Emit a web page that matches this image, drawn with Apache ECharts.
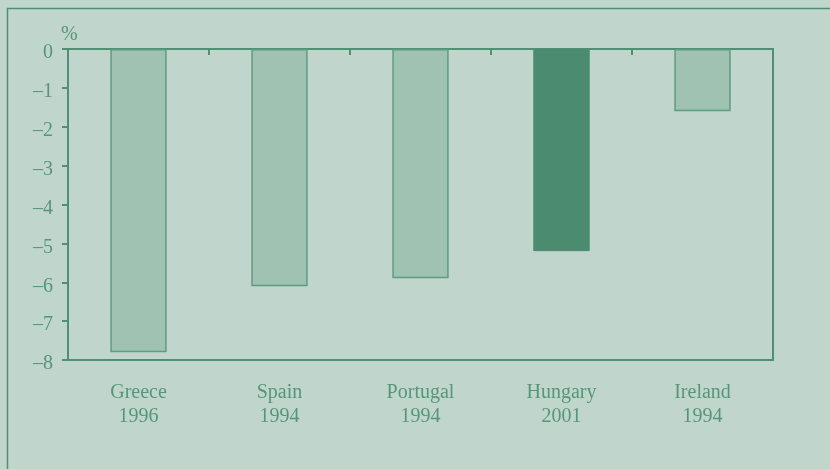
<!DOCTYPE html>
<html>
<head>
<meta charset="UTF-8">
<title>chart</title>
<script src="https://cdn.jsdelivr.net/npm/echarts@6/dist/echarts.min.js"></script>
<style>
  html, body { margin: 0; padding: 0; background: #c0d6cc; }
  #main { width: 830px; height: 469px; }
</style>
</head>
<body>
<div id="main"></div>
<script>
    var categories = ['Greece\n1996', 'Spain\n1994', 'Portugal\n1994', 'Hungary\n2001', 'Ireland\n1994'];
    var values = [-7.8, -6.1, -5.9, -5.2, -1.6];
    var highlight = [false, false, false, true, false];

    var lineColor = '#4f9075';
    var textColor = '#55967a';

    var chart = echarts.init(document.getElementById('main'));
    var option = {
        backgroundColor: '#c0d6cc',
        animation: false,
        textStyle: { fontFamily: 'Liberation Serif' },
        graphic: [{
            type: 'rect',
            shape: { x: 7.5, y: 8.5, width: 900, height: 600 },
            style: { fill: 'none', stroke: lineColor, lineWidth: 1.5 },
            silent: true
        }, {
            type: 'text',
            left: 61, top: 25,
            style: { text: '%', fill: textColor, font: '20px "Liberation Serif"' }
        }],
        grid: {
            left: 68, top: 49, right: 57, bottom: 109,
            show: true, borderColor: lineColor, borderWidth: 2
        },
        xAxis: [{
            type: 'category',
            data: categories,
            position: 'top',
            axisLine: { onZero: false, lineStyle: { color: lineColor, width: 2 } },
            axisTick: { show: true, inside: true, length: 6, lineStyle: { color: lineColor, width: 2 } },
            axisLabel: { show: false }
        }, {
            type: 'category',
            data: categories,
            position: 'bottom',
            axisLine: { onZero: false, lineStyle: { color: lineColor, width: 2 } },
            axisTick: { show: false },
            axisLabel: { color: textColor, fontSize: 20, lineHeight: 24, margin: 21, fontFamily: 'Liberation Serif' }
        }],
        yAxis: {
            type: 'value',
            min: -8, max: 0, interval: 1,
            axisLine: { show: true, lineStyle: { color: lineColor, width: 2 } },
            axisTick: { show: true, length: 6, lineStyle: { color: lineColor, width: 2 } },
            splitLine: { show: false },
            axisLabel: {
                color: textColor, fontSize: 20, margin: 15, fontFamily: 'Liberation Serif',
                verticalAlign: 'top', lineHeight: 8,
                formatter: function (v) { return String(v).replace('-', '\u2013'); }
            }
        },
        series: [{
            type: 'bar',
            xAxisIndex: 1,
            barWidth: '40%',
            data: values.map(function (v, i) {
                return {
                    value: v,
                    itemStyle: highlight[i]
                        ? { color: '#4b8c71', borderColor: '#4b8c71', borderWidth: 1 }
                        : { color: '#9fc2b2', borderColor: '#5e9c82', borderWidth: 1.5 }
                };
            })
        }]
    };
    chart.setOption(option);
</script>
</body>
</html>
